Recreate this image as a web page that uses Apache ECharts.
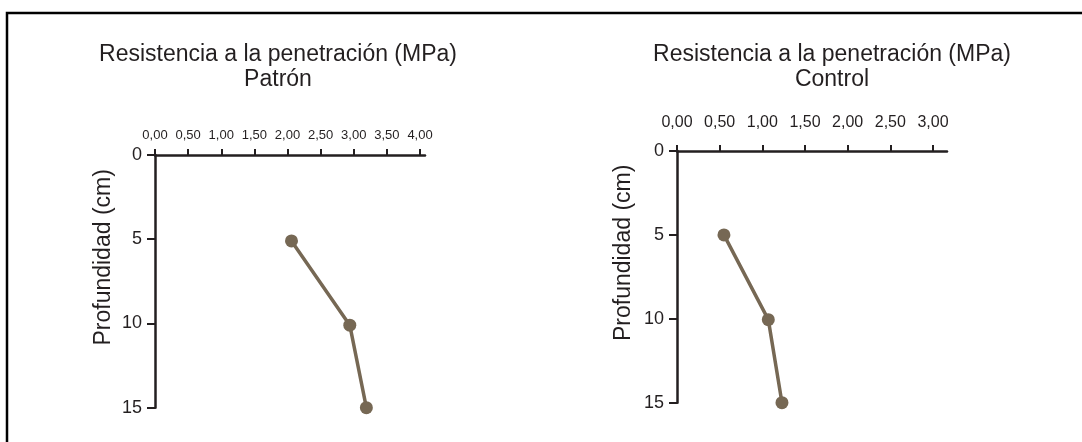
<!DOCTYPE html>
<html>
<head>
<meta charset="utf-8">
<script src="https://cdn.jsdelivr.net/npm/echarts@6/dist/echarts.min.js"></script>
<style>
  html, body { margin: 0; padding: 0; background: #fff; }
  #main { width: 1082px; height: 442px; }
</style>
</head>
<body>
<div id="main"></div>
<script>
var chart = echarts.init(document.getElementById('main'));

// datos
var depthTicks = [0, 5, 10, 15];
var patronTicks = [0, 0.5, 1, 1.5, 2, 2.5, 3, 3.5, 4];
var controlTicks = [0, 0.5, 1, 1.5, 2, 2.5, 3];
var patronMPa = [2.06, 2.94, 3.19];
var patronDepth = [5.1, 10.1, 15];
var controlMPa = [0.55, 1.07, 1.23];
var controlDepth = [5, 10.05, 15];

var INK = '#231f20';
var LINE = '#766854';

function pairs(xs, ys) {
    return xs.map(function (x, i) { return [x, ys[i]]; });
}
function fmt(v) {
    return v.toFixed(2).replace('.', ',');
}

function xAx(grid, ticks, max, size, margin) {
    return {
        type: 'value', gridIndex: grid, position: 'top',
        min: 0, max: max,
        splitLine: { show: false },
        axisLine: { lineStyle: { color: INK, width: 2.5 } },
        axisTick: { inside: false, length: 6, customValues: ticks, lineStyle: { color: INK, width: 2 } },
        axisLabel: {
            customValues: ticks, margin: margin, color: INK,
            fontFamily: 'Liberation Sans', fontSize: size,
            formatter: fmt
        }
    };
}
function yAx(grid, nameGap) {
    return {
        type: 'value', gridIndex: grid, inverse: true,
        min: 0, max: 15, interval: 5,
        axisTick: { length: 8, customValues: depthTicks, lineStyle: { color: INK, width: 2 } },
        name: 'Profundidad (cm)', nameLocation: 'middle', nameRotate: 90, nameGap: nameGap,
        nameTextStyle: { color: INK, fontSize: 23, fontFamily: 'Liberation Sans', padding: [0, 0, 0, 48] },
        splitLine: { show: false },
        axisLine: { onZero: false, lineStyle: { color: INK, width: 2.5 } },
        axisLabel: { customValues: depthTicks, margin: 13, color: INK, fontSize: 18, fontFamily: 'Liberation Sans' }
    };
}
function lineSeries(name, idx, data) {
    return {
        name: name, type: 'line', xAxisIndex: idx, yAxisIndex: idx,
        data: data, symbol: 'circle', symbolSize: 13,
        lineStyle: { color: LINE, width: 3.5 },
        itemStyle: { color: LINE },
        animation: false
    };
}

var titleStyle = { color: INK, fontSize: 23, fontWeight: 'normal', fontFamily: 'Liberation Sans', lineHeight: 25 };

option = {
    backgroundColor: '#fff',
    title: [
        { text: 'Resistencia a la penetración (MPa)\nPatrón', left: 273, top: 37, textAlign: 'center', textStyle: titleStyle },
        { text: 'Resistencia a la penetración (MPa)\nControl', left: 827, top: 37, textAlign: 'center', textStyle: titleStyle }
    ],
    graphic: [{
        type: 'rect', silent: true,
        shape: { x: 7, y: 13, width: 1100, height: 460 },
        style: { fill: 'none', stroke: '#000', lineWidth: 2.5 }
    }],
    grid: [
        { left: 155, top: 155, width: 270, height: 252.7, outerBoundsMode: 'none' },
        { left: 677, top: 151, width: 270, height: 251.7, outerBoundsMode: 'none' }
    ],
    xAxis: [
        xAx(0, patronTicks, 4.075, 13, 13),
        xAx(1, controlTicks, 3.164, 16, 20)
    ],
    yAxis: [yAx(0, 40), yAx(1, 42)],
    series: [
        lineSeries('Patrón', 0, pairs(patronMPa, patronDepth)),
        lineSeries('Control', 1, pairs(controlMPa, controlDepth))
    ]
};

chart.setOption(option);
</script>
</body>
</html>
